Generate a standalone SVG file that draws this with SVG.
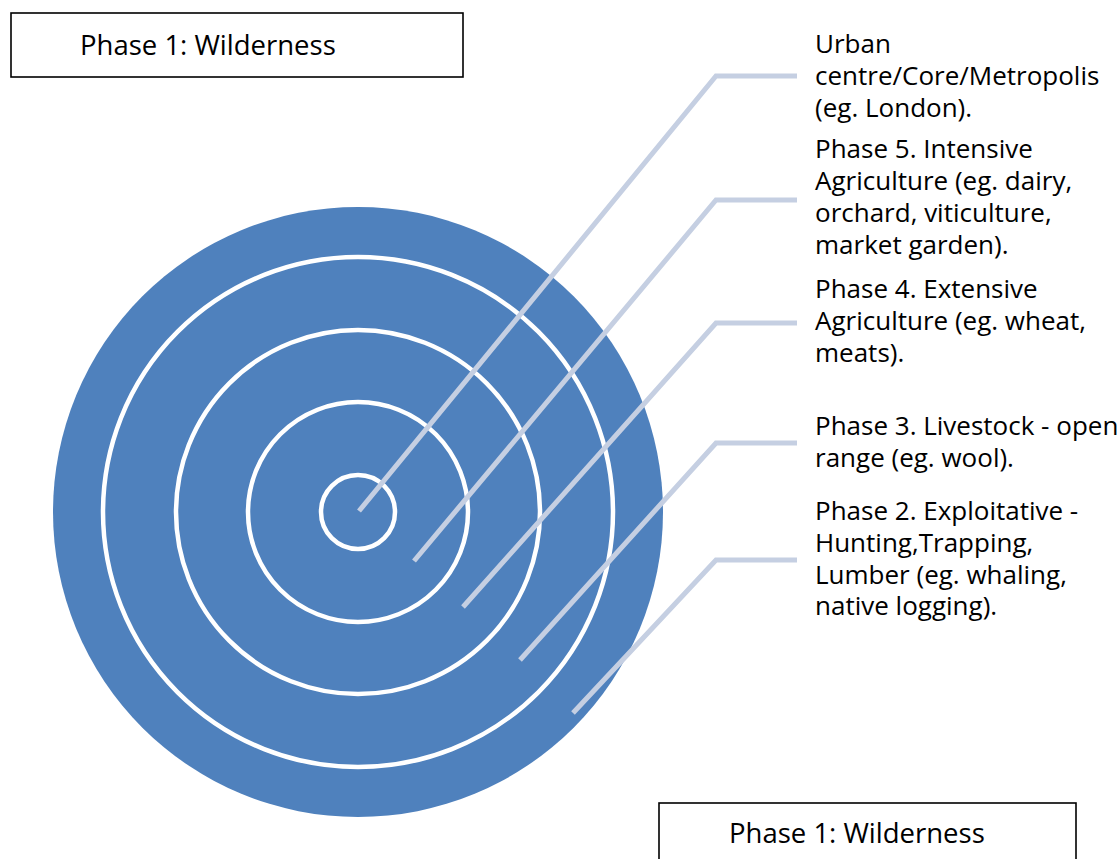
<svg xmlns="http://www.w3.org/2000/svg" width="1120" height="859" viewBox="0 0 1120 859">
<style>
.ring{fill:none;stroke:#ffffff;stroke-width:4.5}
.lead{fill:none;stroke:#c5cfe2;stroke-width:5;stroke-linejoin:miter}
.lbl{font-family:"Open Sans","Liberation Sans",sans-serif;font-size:26px;fill:#000}
.box{fill:#fff;stroke:#000;stroke-width:1.6}
.boxt{font-family:"Open Sans","Liberation Sans",sans-serif;font-size:27.5px;fill:#000}
</style>
<rect width="1120" height="859" fill="#fff"/>
<g id="target">
<circle cx="358" cy="512" r="305" fill="#4f81bd"/>
<circle class="ring" cx="358" cy="512" r="255"/>
<circle class="ring" cx="358" cy="512" r="182"/>
<circle class="ring" cx="358" cy="512" r="110"/>
<circle class="ring" cx="358" cy="512" r="37"/>
</g>
<g id="connectors">
<polyline class="lead" points="359,511 716,76 797,76"/>
<polyline class="lead" points="414,561 716,200 797,200"/>
<polyline class="lead" points="463,607 716,323 797,323"/>
<polyline class="lead" points="520,660 716,443 797,443"/>
<polyline class="lead" points="573,713 716,560 797,560"/>
</g>
<g id="label-core">
<text class="lbl" x="815" y="53">Urban</text>
<text class="lbl" x="815" y="85">centre/Core/Metropolis</text>
<text class="lbl" x="815" y="117">(eg. London).</text>
</g>
<g id="label-phase5">
<text class="lbl" x="815" y="158">Phase 5. Intensive</text>
<text class="lbl" x="815" y="190">Agriculture (eg. dairy,</text>
<text class="lbl" x="815" y="222">orchard, viticulture,</text>
<text class="lbl" x="815" y="254">market garden).</text>
</g>
<g id="label-phase4">
<text class="lbl" x="815" y="298">Phase 4. Extensive</text>
<text class="lbl" x="815" y="330">Agriculture (eg. wheat,</text>
<text class="lbl" x="815" y="362">meats).</text>
</g>
<g id="label-phase3">
<text class="lbl" x="815" y="435">Phase 3. Livestock - open</text>
<text class="lbl" x="815" y="467">range (eg. wool).</text>
</g>
<g id="label-phase2">
<text class="lbl" x="815" y="520">Phase 2. Exploitative -</text>
<text class="lbl" x="815" y="552">Hunting,Trapping,</text>
<text class="lbl" x="815" y="584">Lumber (eg. whaling,</text>
<text class="lbl" x="815" y="615">native logging).</text>
</g>
<g id="box-top">
<rect class="box" x="11" y="13" width="452" height="64"/>
<text class="boxt" x="80" y="55">Phase 1: Wilderness</text>
</g>
<g id="box-bottom">
<rect class="box" x="659" y="803" width="417" height="70"/>
<text class="boxt" x="729" y="843">Phase 1: Wilderness</text>
</g>
</svg>
